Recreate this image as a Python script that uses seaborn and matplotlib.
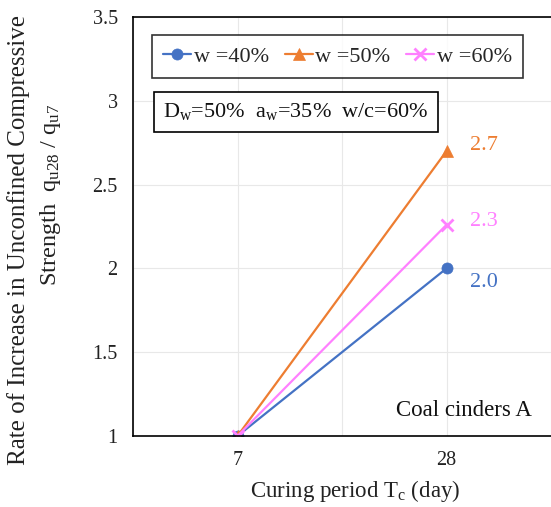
import matplotlib
matplotlib.use("Agg")
import matplotlib.pyplot as plt
import seaborn as sns
import pandas as pd

# Data
curing_labels = ["7", "28"]
x_pos = [1, 3]
series_names = ["w =40%", "w =50%", "w =60%"]
w40 = [1.0, 2.0]
w50 = [1.0, 2.7]
w60 = [1.0, 2.26]
value_labels = ["2.0", "2.7", "2.3"]
colors = ["#4472C4", "#ED7D31", "#FF80FF"]
marker_list = ["o", "^", "x"]

sns.set_theme(style="white")
plt.rcParams["font.family"] = ["Liberation Serif", "DejaVu Serif"]
plt.rcParams["mathtext.fontset"] = "custom"
plt.rcParams["mathtext.rm"] = "Liberation Serif"
plt.rcParams["mathtext.it"] = "Liberation Serif"

W, H = 551, 507
fig = plt.figure(figsize=(W / 100, H / 100), dpi=100)
ax = fig.add_axes([133 / W, 1 - 436 / H, 1 - 133 / W, (436 - 17) / H])

for name, vals, c, m in zip(series_names, [w40, w50, w60], colors, marker_list):
    d = pd.DataFrame({"x": x_pos, "y": vals})
    sns.lineplot(data=d, x="x", y="y", color=c, marker=m, markersize=8,
                 markeredgewidth=2.0 if m == "x" else 0.5, markeredgecolor=c,
                 linewidth=1.6, ax=ax, label=name)

ax.set_xlim(0, 4)
ax.set_ylim(1, 3.5)
ax.set_xticks([0, 1, 2, 3, 4])
ax.set_xticklabels(["", curing_labels[0], "", curing_labels[1], ""])
ax.set_yticks([1, 1.5, 2, 2.5, 3, 3.5])
ax.set_yticklabels(["1", "1.5", "2", "2.5", "3", "3.5"])
ax.tick_params(axis="x", length=0, labelsize=14.5, colors="#222222", pad=11)
ax.tick_params(axis="y", length=0, labelsize=14.5, colors="#222222", pad=11)
ax.grid(True, color="#E8E8E8", linewidth=0.8)
ax.spines["right"].set_visible(False)
for s in ["left", "bottom", "top"]:
    ax.spines[s].set_color("black")
    ax.spines[s].set_linewidth(1.2)

ax.set_xlabel("Curing period T$_{\\mathrm{c}}$ (day)", fontsize=16.5, color="#222222")
ax.xaxis.set_label_coords((355 - 133) / 418, (436 - 478) / 419)
ax.set_ylabel("")

fig.text(19 / W, 1 - 240 / H, "Rate of Increase in Unconfined Compressive",
         rotation=90, ha="center", va="center", fontsize=18, color="#222222")
fig.text(51 / W, 1 - 195 / H, "Strength  q$_{\\mathrm{u28}}$ / q$_{\\mathrm{u7}}$",
         rotation=90, ha="center", va="center", fontsize=17.5, color="#222222")

# value labels
ends = [w40[1], w50[1], w60[1]]
offsets = [-0.087, 0.036, 0.017]
for v, lab, c, off in zip(ends, value_labels, colors, offsets):
    ax.text(3.225, v + off, lab, color=c, fontsize=16, va="center", ha="left")

ax.text((532 - 133) / 418, (436 - 410) / 419, "Coal cinders A", transform=ax.transAxes,
        ha="right", va="center", fontsize=16.5, color="#111111")

leg = ax.legend(loc="upper left", bbox_to_anchor=((152 - 133) / 418, (436 - 35) / 419),
                ncol=3, frameon=True, fontsize=16, handlelength=1.27, handletextpad=0.1,
                columnspacing=0.72, borderpad=0.5, fancybox=False, borderaxespad=0)
leg.get_frame().set_edgecolor("black")
leg.get_frame().set_linewidth(1.2)

ax.text((163 - 133) / 418, (436 - 112) / 419, "D$_{\\mathrm{w}}$=50%  a$_{\\mathrm{w}}$=35%  w/c=60%",
        transform=ax.transAxes, fontsize=16, ha="left", va="center", color="#111111",
        bbox=dict(boxstyle="square,pad=0.42", facecolor="white",
                  edgecolor="black", linewidth=1.2))

fig.savefig("out.png", dpi=100)
